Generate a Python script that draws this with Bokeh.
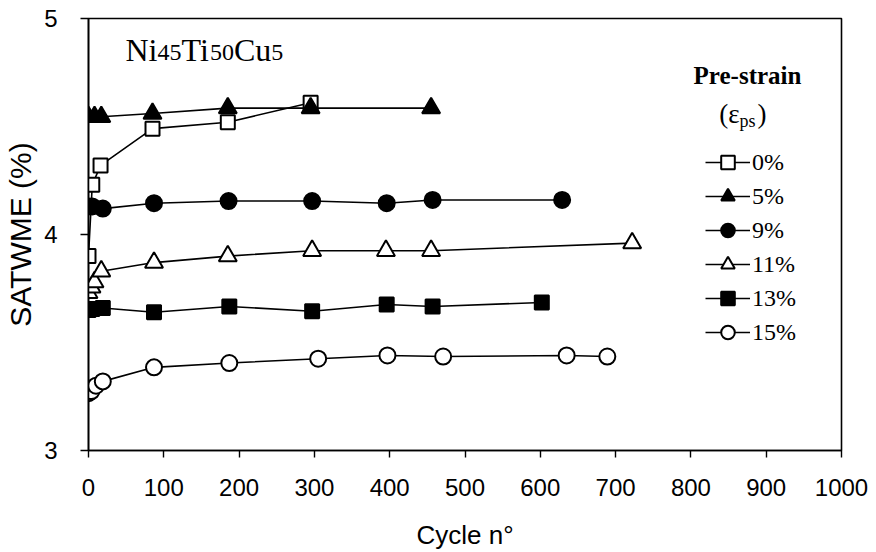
from bokeh.plotting import figure
from bokeh.models import Legend, LegendItem, Label, FixedTicker, Range1d
from bokeh.embed import file_html
from bokeh.resources import INLINE

# ---------------- data ----------------
series_labels = ["0%", "5%", "9%", "11%", "13%", "15%"]

cycles_0 = [0, 5, 16, 85, 185, 295]
satwme_0 = [3.90, 4.23, 4.32, 4.49, 4.52, 4.61]

cycles_5 = [0, 8, 17, 85, 185, 295, 455]
satwme_5 = [4.545, 4.545, 4.545, 4.56, 4.585, 4.585, 4.585]

cycles_9 = [0, 5, 19, 87, 186, 297, 396, 457, 629]
satwme_9 = [4.13, 4.13, 4.12, 4.145, 4.155, 4.155, 4.145, 4.16, 4.16]

cycles_11 = [0, 4, 8, 17, 87, 185, 297, 395, 455, 722]
satwme_11 = [3.73, 3.755, 3.78, 3.83, 3.87, 3.90, 3.925, 3.925, 3.925, 3.96]

cycles_13 = [0, 5, 19, 87, 187, 297, 396, 457, 602]
satwme_13 = [3.65, 3.655, 3.66, 3.64, 3.667, 3.645, 3.676, 3.667, 3.685]

cycles_15 = [0, 4, 10, 19, 87, 187, 305, 397, 471, 635, 689]
satwme_15 = [3.265, 3.275, 3.30, 3.32, 3.385, 3.405, 3.425, 3.44, 3.435, 3.44, 3.435]

x_ticks = [0, 100, 200, 300, 400, 500, 600, 700, 800, 900, 1000]
y_ticks = [3, 4, 5]

# ---------------- layout / style ----------------
W, H = 876, 552
FL, FR, FT, FB = 88, 841, 18, 450
X0, X1, Y0, Y1 = 0, 1000, 3, 5
TXT_SHIFT = -9  # baseline correction for Label text


def px_x(px):
    return X0 + (px - FL) / (FR - FL) * (X1 - X0)


def px_y(py):
    return Y1 - (py - FT) / (FB - FT) * (Y1 - Y0)


p = figure(width=W, height=H, x_range=Range1d(X0, X1), y_range=Range1d(Y0, Y1),
           output_backend="svg", toolbar_location=None,
           min_border_left=FL, min_border_right=W - FR,
           min_border_top=FT, min_border_bottom=H - FB)
p.background_fill_color = "white"
p.border_fill_color = "white"
p.outline_line_color = "black"
p.outline_line_width = 1.6
p.grid.visible = False

for ax in (p.xaxis[0], p.yaxis[0]):
    ax.axis_line_color = "black"
    ax.axis_line_width = 1.6
    ax.major_tick_line_color = "black"
    ax.major_tick_line_width = 1.4
    ax.major_tick_in = 0
    ax.minor_tick_out = 0
    ax.minor_tick_in = 0
    ax.major_label_text_font = "Liberation Sans"
    ax.major_label_text_font_size = "24px"
    ax.major_label_text_color = "black"
    ax.axis_label_text_font = "Liberation Sans"
    ax.axis_label_text_font_style = "normal"
    ax.axis_label_text_color = "black"

p.xaxis.ticker = FixedTicker(ticks=x_ticks)
p.yaxis.ticker = FixedTicker(ticks=y_ticks)
p.xaxis.major_tick_out = 7
p.yaxis.major_tick_out = 8
p.xaxis.major_label_standoff = 21
p.yaxis.major_label_standoff = 23
p.xaxis.axis_label = "Cycle n°"
p.xaxis.axis_label_text_font_size = "26px"
p.xaxis.axis_label_standoff = 21
p.yaxis.axis_label = "SATWME (%)"
p.yaxis.axis_label_text_font_size = "30px"
p.yaxis.axis_label_standoff = 4

series = [
    (cycles_0, satwme_0, "square", "white", 14),
    (cycles_5, satwme_5, "triangle", "black", 18),
    (cycles_9, satwme_9, "circle", "black", 16),
    (cycles_11, satwme_11, "triangle", "white", 18),
    (cycles_13, satwme_13, "square", "black", 14),
    (cycles_15, satwme_15, "circle", "white", 16),
]

items = []
for (xs, ys, mk, fill, sz), lab in zip(series, series_labels):
    ln = p.line(xs, ys, line_color="black", line_width=1.6)
    sc = p.scatter(xs, ys, marker=mk, size=sz, fill_color=fill,
                   line_color="black", line_width=2)
    items.append(LegendItem(label=lab, renderers=[ln, sc]))

legend = Legend(items=items, location=(617, 101), orientation="vertical",
                glyph_width=45, glyph_height=34, label_height=20, spacing=0,
                padding=0, margin=0, label_standoff=2,
                border_line_alpha=0, background_fill_alpha=0,
                label_text_font="Liberation Serif", label_text_font_size="24px",
                label_text_color="black", label_text_baseline="middle")
p.add_layout(legend)


# ---------------- text annotations ----------------
def add_text(txt, px, py, size, style="normal", align="left", font="Liberation Serif"):
    p.add_layout(Label(x=px_x(px), y=px_y(py + TXT_SHIFT), text=txt, text_font=font,
                       text_font_size=f"{size}px", text_font_style=style,
                       text_align=align, text_baseline="alphabetic",
                       text_color="black"))


# Ni45Ti50Cu5 (Times metrics: N .722, i .278, T .611, C .667, u .5, digit .5)
M, S = 32, 24
x = 125
base, sub = 58, 61
for txt, size, by, w in [("Ni", M, base, 1.0), ("45", S, sub, 1.0), ("Ti", M, base, 0.889),
                         ("50", S, sub, 1.0), ("Cu", M, base, 1.167), ("5", S, sub, 0.5)]:
    add_text(txt, x, by, size)
    x += w * size

# legend header
add_text("Pre-strain", 747, 84, 25, style="bold", align="center")
add_text("(\u03b5", 739, 122, 27, align="right")
add_text("ps", 739, 129, 18)
add_text(")", 757, 122, 27)

open("out.html", "w").write(file_html(p, INLINE))
